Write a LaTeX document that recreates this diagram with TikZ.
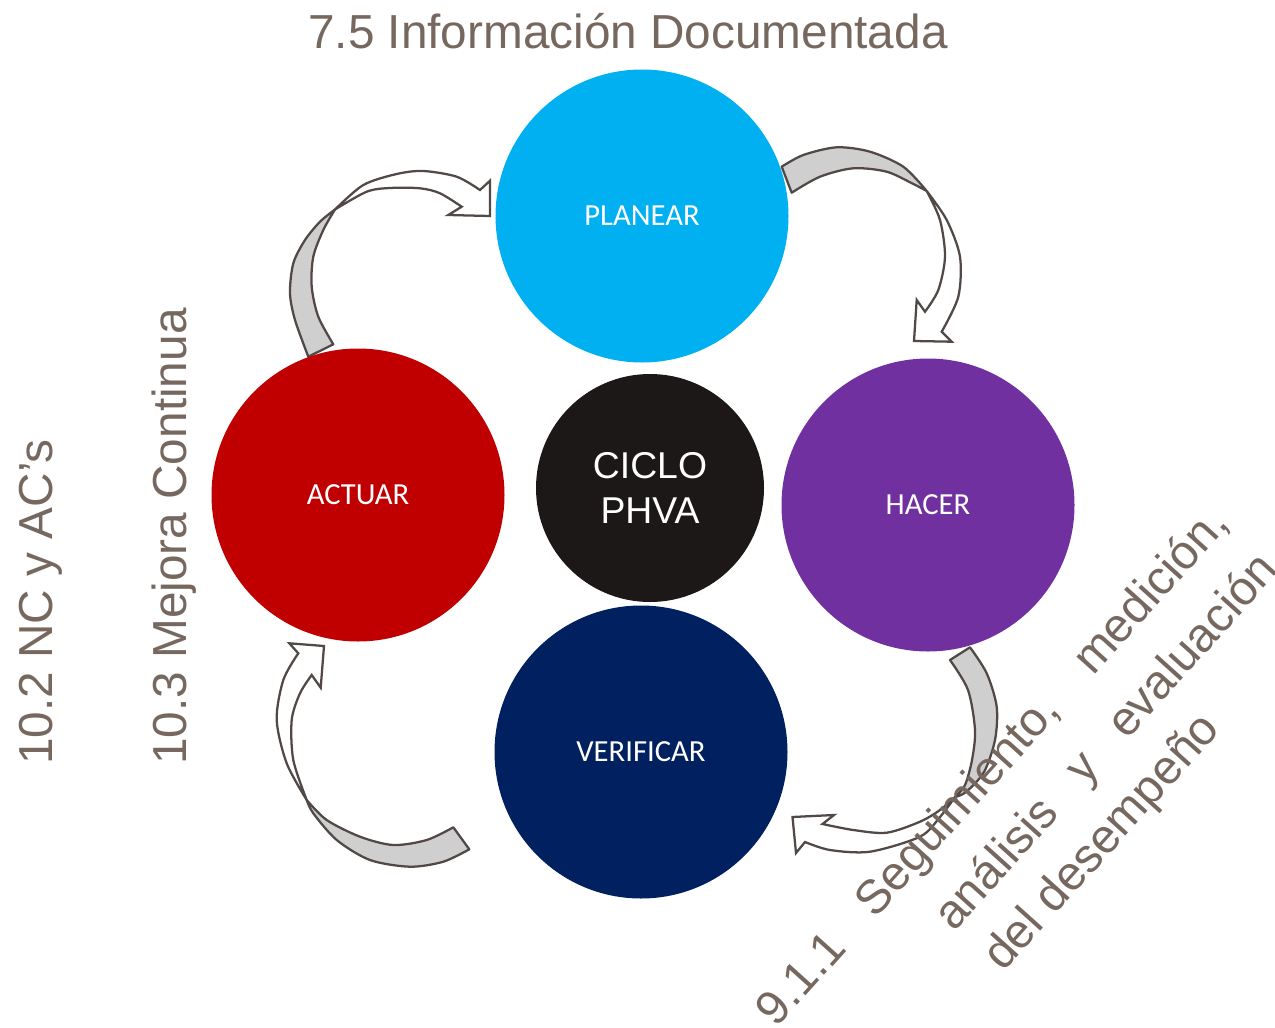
\documentclass[tikz,border=0pt]{standalone}
\usepackage{fontspec}
\setmainfont{Liberation Sans}
\newfontfamily\labelfont{Carlito}

\definecolor{planearc}{HTML}{00B0F0}
\definecolor{hacerc}{HTML}{7030A0}
\definecolor{verifc}{HTML}{002060}
\definecolor{actuarc}{HTML}{C00000}
\definecolor{cicloc}{HTML}{1B1817}
\definecolor{textgray}{HTML}{76685F}
\definecolor{ribbonline}{HTML}{514945}
\definecolor{ribbonback}{HTML}{CFCFCF}

\begin{document}
\begin{tikzpicture}[x=0.75pt,y=-0.75pt,
  phase/.style={circle, minimum size=219.75pt, inner sep=0pt, text=white,
    font=\labelfont\fontsize{23}{27}\selectfont},
  core/.style={circle, minimum size=171pt, inner sep=0pt, fill=cicloc, text=white,
    align=center, font=\fontsize{28}{34}\selectfont},
  clause/.style={text=textgray, inner sep=0pt, font=\fontsize{35.8}{42}\selectfont},
  ribback/.style={fill=ribbonback, draw=ribbonline, line width=1.7pt, line join=round},
  ribfront/.style={fill=white, draw=ribbonline, line width=1.7pt, line join=miter},
]
\useasboundingbox (0,0) rectangle (1275,1028);

% curved block arrows between the phases
% ACTUAR -> PLANEAR
\draw[ribback] plot[smooth] coordinates {(308.3,356.7) (295,320) (290,293.3) (293.3,263.3) (305,240) (320,221.7) (335,209.5)}
  -- plot[smooth] coordinates {(335,209.5) (323.3,230) (313.3,256.7) (311.7,286.7) (318.3,316.7) (333.3,344.3)} -- cycle;
\draw[ribfront] plot[smooth] coordinates {(335,209.5) (363.3,185) (396.7,174) (423.3,171) (456.7,176.7) (480,190)}
  -- (490,180.7) -- (490,216) -- (448.3,215)
  -- plot[smooth] coordinates {(461.7,206.7) (440,193.3) (420,188.3) (390,188) (366.7,191.7) (335,209.5)} -- cycle;

% PLANEAR -> HACER
\draw[ribback] plot[smooth] coordinates {(781.7,166.7) (803.3,155) (836.7,147.3) (870,151.7) (903.3,166.7) (926.7,191)}
  -- plot[smooth] coordinates {(926.7,191) (913.3,184) (886.7,171.7) (853.3,168.3) (820,176.7) (791.7,192.7)} -- cycle;
\draw[ribfront] plot[smooth] coordinates {(926.7,191) (946.7,220) (960,256.7) (958.3,296.7) (941.7,331.7)}
  -- (951.7,341.7) -- (914,341) -- (916.7,300)
  -- plot[smooth] coordinates {(925,311.7) (938.3,290) (945,256.7) (940,220) (926.7,191)} -- cycle;

% HACER -> VERIFICAR
\draw[ribback] plot[smooth] coordinates {(970,647.3) (986.7,673.3) (996.7,706.7) (995,740) (984,772) (966,792) (955,797)}
  -- plot[smooth] coordinates {(955,797) (965,785) (972,760) (975,730) (968,690) (950,660)} -- cycle;
\draw[ribfront] plot[smooth] coordinates {(955,797) (940,810) (920,821.7) (886.7,832.7) (853.3,830) (822.5,824)}
  -- (834,815) -- (792.5,817) -- (796,853)
  -- plot[smooth] coordinates {(805,842) (830,850) (870,851.7) (920,836.7) (940,817) (955,797)} -- cycle;

% VERIFICAR -> ACTUAR
\draw[ribback] plot[smooth] coordinates {(469.3,849.3) (443.3,861.7) (410,866.7) (370,860) (336.7,840) (313.3,813.3) (306.7,800)}
  -- plot[smooth] coordinates {(306.7,800) (326.7,820) (360,836.7) (393.3,845) (426.7,840) (453.3,827.3)} -- cycle;
\draw[ribfront] plot[smooth] coordinates {(306.7,800) (286.7,763.3) (276.7,720) (283.3,680) (298.3,653.3)}
  -- (289.3,643.3) -- (324,646) -- (320.7,687.7)
  -- plot[smooth] coordinates {(311.7,675) (300,693.3) (291.7,720) (293.3,760) (306.7,800)} -- cycle;

% phases of the cycle
\node[phase, fill=planearc] (planear) at (642,216) {PLANEAR};
\node[phase, fill=hacerc] (hacer) at (928,505) {HACER};
\node[phase, fill=verifc] (verificar) at (641,752) {VERIFICAR};
\node[phase, fill=actuarc] (actuar) at (358,495) {ACTUAR};
\node[core] (ciclo) at (650,488) {CICLO\\PHVA};

% clause labels
\node[clause, anchor=base] (info) at (628,48) {7.5 Información Documentada};
\node[clause, rotate=90, anchor=base west] (nc) at (52,765) {10.2 NC y AC’s};
\node[clause, rotate=90, anchor=base west] (mejora) at (186,765) {10.3 Mejora Continua};
\node[clause, rotate=48, anchor=base west] (seg1) at (776.6,1028.4)
  {\makebox[508pt][s]{9.1.1 Seguimiento, medición,}};
\node[clause, rotate=48, anchor=base west] (seg2) at (954,933)
  {\makebox[365pt][s]{análisis y evaluación}};
\node[clause, rotate=48, anchor=base west] (seg3) at (1003,973) {del desempeño};
\end{tikzpicture}
\end{document}
